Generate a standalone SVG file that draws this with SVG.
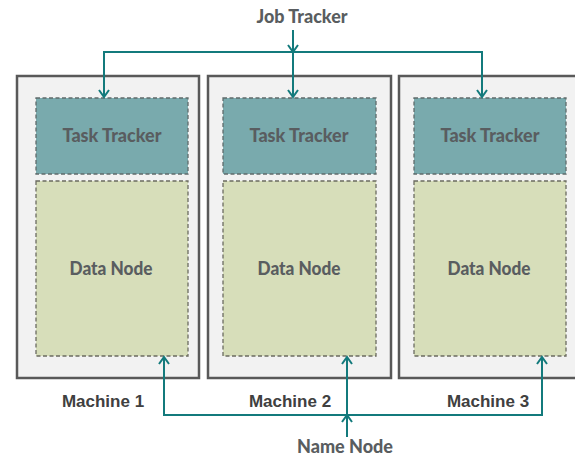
<svg xmlns="http://www.w3.org/2000/svg" width="575" height="460" viewBox="0 0 575 460">
<defs>
<style>
.machine{fill:#f2f2f2;stroke:#595959;stroke-width:2.5}
.tt{fill:#79aaad;stroke:#5f6b6b;stroke-width:1.3;stroke-dasharray:4 2.5}
.dn{fill:#d7deba;stroke:#6b6b60;stroke-width:1.3;stroke-dasharray:4 2.5}
.lbl{font-family:Lato,"Open Sans",sans-serif;font-weight:900;font-size:19px;fill:#595d60;text-anchor:middle}
.mlbl{font-family:"Liberation Sans",Arial,sans-serif;font-weight:bold;font-size:17px;fill:#404040;text-anchor:middle}
.conn{fill:none;stroke:#137a7c;stroke-width:2}
</style>
<marker id="arr" markerWidth="12" markerHeight="12" viewBox="0 0 12 12" refX="10" refY="6" orient="auto" markerUnits="userSpaceOnUse">
<path d="M3,1 L10,6 L3,11" fill="none" stroke="#137a7c" stroke-width="2"/>
</marker>
</defs>
<rect width="575" height="460" fill="#ffffff"/>
<g id="machine1">
<rect class="machine" x="17" y="76" width="182" height="302"/>
<text class="mlbl" x="103" y="407">Machine 1</text>
</g>
<g id="machine2">
<rect class="machine" x="208" y="76" width="183" height="302"/>
<text class="mlbl" x="290" y="407">Machine 2</text>
</g>
<g id="machine3">
<rect class="machine" x="399" y="76" width="182" height="302"/>
<text class="mlbl" x="488" y="407">Machine 3</text>
</g>
<g id="tasktracker1">
<rect class="tt" x="36" y="98" width="152" height="76"/>
<text class="lbl" x="112" y="142" textLength="99" lengthAdjust="spacingAndGlyphs">Task Tracker</text>
</g>
<g id="tasktracker2">
<rect class="tt" x="223" y="98" width="153" height="76"/>
<text class="lbl" x="299" y="142" textLength="99" lengthAdjust="spacingAndGlyphs">Task Tracker</text>
</g>
<g id="tasktracker3">
<rect class="tt" x="414" y="98" width="152" height="76"/>
<text class="lbl" x="490" y="142" textLength="99" lengthAdjust="spacingAndGlyphs">Task Tracker</text>
</g>
<g id="datanode1">
<rect class="dn" x="36" y="181" width="152" height="175"/>
<text class="lbl" x="111" y="275" textLength="83" lengthAdjust="spacingAndGlyphs">Data Node</text>
</g>
<g id="datanode2">
<rect class="dn" x="223" y="181" width="153" height="175"/>
<text class="lbl" x="299" y="275" textLength="83" lengthAdjust="spacingAndGlyphs">Data Node</text>
</g>
<g id="datanode3">
<rect class="dn" x="414" y="181" width="152" height="175"/>
<text class="lbl" x="489" y="275" textLength="83" lengthAdjust="spacingAndGlyphs">Data Node</text>
</g>
<g id="jobtracker">
<text class="lbl" x="302" y="23" textLength="91" lengthAdjust="spacingAndGlyphs">Job Tracker</text>
</g>
<g id="namenode">
<text class="lbl" x="345" y="453" textLength="96" lengthAdjust="spacingAndGlyphs">Name Node</text>
</g>
<g id="connectors">
<path class="conn" d="M293,30 V52" marker-end="url(#arr)"/>
<path class="conn" d="M104,97 V52 H482 V97" marker-end="url(#arr)"/>
<path class="conn" d="M104,52 V97" marker-end="url(#arr)"/>
<path class="conn" d="M293,52 V97" marker-end="url(#arr)"/>
<path class="conn" d="M347,437 V415" marker-end="url(#arr)"/>
<path class="conn" d="M164,357 V415 H542 V357" marker-end="url(#arr)"/>
<path class="conn" d="M164,415 V357" marker-end="url(#arr)"/>
<path class="conn" d="M347,415 V357" marker-end="url(#arr)"/>
</g>
</svg>
